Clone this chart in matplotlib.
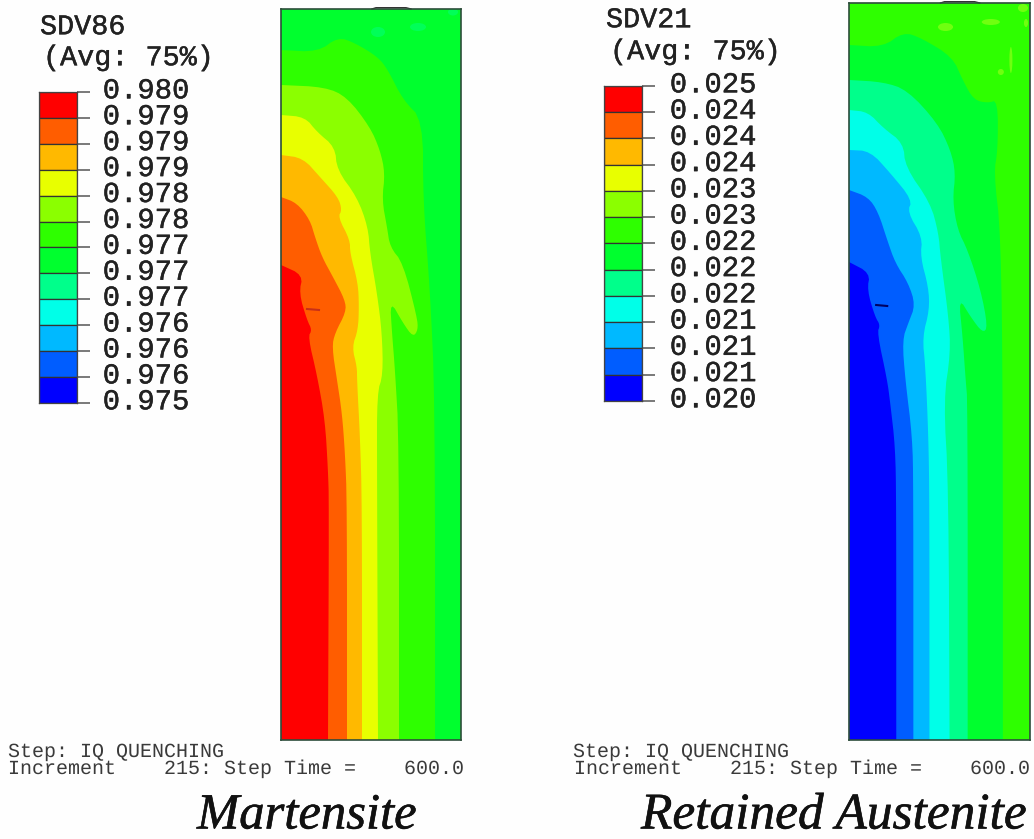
import matplotlib
matplotlib.use("Agg")
import matplotlib.pyplot as plt
import matplotlib.patheffects as pe
from matplotlib.patches import Ellipse
from matplotlib.transforms import ScaledTranslation

plt.rcParams["text.hinting"] = "no_hinting"
plt.rcParams["text.hinting_factor"] = 1

W, H = 1034, 839
MONO = "Liberation Mono"
SERIF = "Liberation Serif"

BAND_COLORS = ["#ff0000", "#ff5d00", "#ffb900", "#e8ff00", "#8bff00", "#2eff00",
               "#00ff2e", "#00ff8b", "#00ffe8", "#00b9ff", "#005dff", "#0000ff"]

# legend tick labels, top to bottom
sdv86_labels = ["0.980", "0.979", "0.979", "0.979", "0.978", "0.978", "0.977",
                "0.977", "0.977", "0.976", "0.976", "0.976", "0.975"]
sdv21_labels = ["0.025", "0.024", "0.024", "0.024", "0.023", "0.023", "0.022",
                "0.022", "0.022", "0.021", "0.021", "0.021", "0.020"]

# Martensite contours: (radial, depth) along each isoline, core outward
m_red_r = [0, 22, 18, 26, 31, 27, 36, 44, 47, 48, 47]
m_red_h = [256, 266, 284, 311, 321, 328, 366, 411, 461, 494, 731]
m_orange_r = [0, 16, 29, 34, 41, 52, 64, 65, 54, 51, 56, 61, 64, 66, 66]
m_orange_h = [188, 194, 211, 228, 248, 268, 291, 303, 324, 338, 371, 404, 444, 494, 731]
m_amber_r = [0, 22, 39, 57, 61, 57, 69, 69, 77, 78, 77, 71, 76, 76, 79, 81, 81]
m_amber_h = [146, 149, 168, 188, 201, 208, 231, 244, 274, 298, 321, 338, 358, 371, 428, 494, 731]
m_yellow_r = [0, 24, 36, 54, 56, 76, 87, 89, 96, 101, 102, 96, 96, 97]
m_yellow_h = [106, 108, 123, 138, 161, 188, 218, 244, 284, 324, 366, 384, 461, 731]
m_lime_r = [0, 44, 66, 89, 99, 104, 101, 106, 109, 122, 136, 137, 132, 122, 109, 111, 114, 118, 118]
m_lime_h = [76, 78, 88, 118, 141, 164, 191, 218, 238, 254, 308, 321, 328, 314, 291, 324, 361, 431, 731]
m_green_r = [0, 37, 57, 74, 97, 107, 122, 142, 142, 149, 154, 154]
m_green_h = [41, 43, 28, 34, 48, 61, 91, 111, 191, 281, 391, 731]

# Retained austenite contours
a_navy_r = [0, 21, 18, 26, 31, 28, 38, 41, 46, 47, 47]
a_navy_h = [259, 270, 287, 314, 322, 330, 377, 400, 444, 500, 737]
a_blue_r = [0, 19, 29, 38, 46, 59, 66, 59, 53, 56, 63, 64, 64]
a_blue_h = [187, 194, 209, 237, 260, 280, 302, 320, 337, 377, 434, 484, 737]
a_sky_r = [0, 21, 41, 63, 58, 73, 71, 79, 80, 73, 76, 79, 80, 80]
a_sky_h = [147, 148, 170, 197, 209, 234, 254, 284, 307, 334, 364, 434, 500, 737]
a_cyan_r = [0, 19, 34, 54, 56, 81, 89, 91, 99, 101, 94, 99, 100]
a_cyan_h = [107, 109, 125, 140, 164, 200, 230, 254, 314, 350, 397, 484, 737]
a_mint_r = [0, 34, 58, 88, 101, 106, 103, 108, 118, 131, 138, 133, 121, 109, 113, 116, 118, 118]
a_mint_h = [77, 79, 87, 120, 147, 170, 197, 227, 247, 287, 324, 330, 314, 294, 334, 377, 400, 737]
a_green_r = [0, 34, 54, 72, 103, 113, 124, 138, 148, 148, 144, 151, 153, 153]
a_green_h = [42, 44, 29, 35, 54, 77, 97, 100, 97, 147, 170, 230, 400, 737]

# small isolated hot spots (radial, depth, radial extent, depth extent)
m_spot_r, m_spot_h, m_spot_w, m_spot_t = [97, 137, 172], [23, 18, 3], [14, 16, 10], [10, 8, 7]
a_spot_r = [96, 141, 173, 161, 151, 176]
a_spot_h = [24, 19, 5, 57, 69, 20]
a_spot_w = [15, 18, 10, 3, 6, 4]
a_spot_t = [8, 6, 8, 26, 6, 8]

fig = plt.figure(figsize=(W / 100, H / 100), dpi=100, facecolor="#fefefe")


def px_axes(left, top, right, bottom):
    return fig.add_axes([left / W, 1 - bottom / H, (right - left) / W, (bottom - top) / H])


def put(x, y, s, **kw):
    return fig.text(x / W, 1 - y / H, s, **kw)


def rounded(r, h, rounds=2):
    """Round off the drawn corners of an isoline; end points stay where they are."""
    pts = list(zip(r, h))
    for _ in range(rounds):
        out = [pts[0]]
        for a, b in zip(pts, pts[1:]):
            out.append((0.75 * a[0] + 0.25 * b[0], 0.75 * a[1] + 0.25 * b[1]))
            out.append((0.25 * a[0] + 0.75 * b[0], 0.25 * a[1] + 0.75 * b[1]))
        out.append(pts[-1])
        pts = out
    return [p[0] for p in pts], [p[1] for p in pts]


def panel(box, height, background, regions, spots, spot_color, mark, mark_color):
    ax = px_axes(*box)
    ax.set_xlim(0, 180)
    ax.set_ylim(height, 0)
    ax.set_facecolor(background)
    for r, h, c in regions:
        sr, sh = rounded(r, h)
        ax.fill(sr + [0], sh + [height], color=c, lw=0)
    for r, h, w, t in zip(*spots):
        ax.add_patch(Ellipse((r, h), w, t, color=spot_color, lw=0))
    ax.plot(*mark, color=mark_color, lw=1.5)
    ax.plot([91, 95, 125, 130], [0, -1.3, -1.3, 0], color="#333333", lw=1.0, clip_on=False)
    ax.set_xticks([])
    ax.set_yticks([])
    for s in ax.spines.values():
        s.set_color("#2d4d3b")
        s.set_linewidth(1.2)


panel((281, 9, 461, 740), 731, "#00ff2e",
      [(m_green_r, m_green_h, "#2eff00"), (m_lime_r, m_lime_h, "#8bff00"),
       (m_yellow_r, m_yellow_h, "#e8ff00"), (m_amber_r, m_amber_h, "#ffb900"),
       (m_orange_r, m_orange_h, "#ff5d00"), (m_red_r, m_red_h, "#ff0000")],
      (m_spot_r, m_spot_h, m_spot_w, m_spot_t), "#00ff58",
      ([26, 38], [300, 301]), "#c83018")

panel((849, 3, 1030, 740), 737, "#2eff00",
      [(a_green_r, a_green_h, "#00ff2e"), (a_mint_r, a_mint_h, "#00ff8b"),
       (a_cyan_r, a_cyan_h, "#00ffe8"), (a_sky_r, a_sky_h, "#00b9ff"),
       (a_blue_r, a_blue_h, "#005dff"), (a_navy_r, a_navy_h, "#0000ff")],
      (a_spot_r, a_spot_h, a_spot_w, a_spot_t), "#70ff10",
      ([27, 38], [302, 303]), "#000060")

soft = [pe.withStroke(linewidth=0.3, foreground="#222222")]


def legend(box, labels, pad):
    ax = px_axes(*box)
    n = len(BAND_COLORS)
    ax.bar([0] * n, [1] * n, width=1, bottom=[n - 1 - i for i in range(n)],
           color=BAND_COLORS, edgecolor="#333333", linewidth=0.9, align="center")
    ax.set_xlim(-0.5, 0.5)
    ax.set_ylim(0, n)
    ax.set_xticks([])
    ax.yaxis.tick_right()
    ax.set_yticks(range(n + 1), labels[::-1], fontfamily=MONO, fontsize=20.8, color="#222222")
    ax.tick_params(axis="y", length=9.5, width=1.1, color="#555555", pad=pad)
    shift = ScaledTranslation(0, 3 / 72, fig.dpi_scale_trans)
    for lab in ax.get_yticklabels():
        lab.set_transform(lab.get_transform() + shift)
        lab.set_path_effects(soft)
    for s in ax.spines.values():
        s.set_color("#444444")
        s.set_linewidth(0.9)
    ax.patch.set_alpha(0)


legend((39, 92, 77, 403), sdv86_labels, 9)
legend((604, 86, 642, 401), sdv21_labels, 10.5)

head = dict(family=MONO, fontsize=20.5, color="#222222", va="center", path_effects=soft)
put(40, 27, "SDV86", **head)
put(43, 58, "(Avg: 75%)", **head)
put(606, 20, "SDV21", **head)
put(610, 52, "(Avg: 75%)", **head)

foot = dict(family=MONO, color="#3a3a3a", va="center")
for x0, x1 in ((8, 8), (573, 574)):
    put(x0, 752, "Step: IQ QUENCHING", fontsize=14.7, **foot)
    put(x1, 769, "Increment    215: Step Time =    600.0", fontsize=14.3, **foot)

ink = [pe.withStroke(linewidth=0.4, foreground="#111111")]
cap = dict(family=SERIF, style="italic", color="#111111", va="baseline", path_effects=ink)
put(197, 828.5, "Martensite", fontsize=36.5, **cap)
put(641, 828.5, "Retained Austenite", fontsize=37, **cap)

fig.savefig("out.png", dpi=100, facecolor=fig.get_facecolor())
